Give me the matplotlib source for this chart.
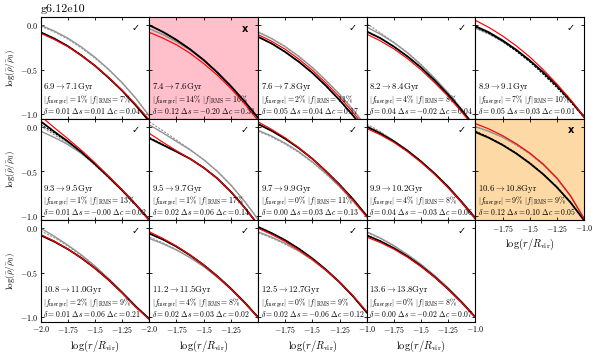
import matplotlib
matplotlib.use('Agg')
import matplotlib.pyplot as plt

plt.rcParams['mathtext.fontset'] = 'cm'
plt.rcParams['font.family'] = 'serif'
plt.rcParams['font.serif'] = ['cmr10', 'DejaVu Serif']

# radial grid shared by every panel
log_r = [-2.0, -1.875, -1.75, -1.625, -1.5, -1.375, -1.25, -1.125, -1.0]

t_start = ['6.9', '7.4', '7.6', '8.2', '8.9', '9.3', '9.5', '9.7', '9.9', '10.6', '10.8', '11.2', '12.5', '13.6']
t_end = ['7.1', '7.6', '7.8', '8.4', '9.1', '9.5', '9.7', '9.9', '10.2', '10.8', '11.0', '11.5', '12.7', '13.8']
f_merger = [1, 14, 2, 4, 7, 1, 1, 0, 4, 9, 2, 4, 0, 0]
f_rms = [7, 16, 11, 8, 10, 13, 17, 11, 8, 9, 9, 8, 9, 8]
delta = ['0.01', '0.12', '0.05', '0.04', '0.05', '0.01', '0.02', '0.00', '0.04', '0.12', '0.01', '0.02', '0.02', '0.00']
d_s = ['0.01', '-0.20', '0.04', '-0.02', '0.03', '-0.00', '0.06', '0.03', '-0.03', '0.10', '0.06', '0.03', '-0.06', '-0.02']
d_c = ['0.04', '0.31', '0.17', '0.04', '0.01', '0.02', '0.14', '0.13', '0.06', '0.05', '0.21', '0.02', '0.12', '0.07']
passed = [True, False, True, True, True, True, True, True, True, False, True, True, True, True]

# log(rho_bar/rho_0) per panel
black = [
    [-0.08, -0.15, -0.235, -0.34, -0.455, -0.59, -0.735, -0.90, -1.08],
    [0.0, -0.075, -0.165, -0.27, -0.39, -0.53, -0.685, -0.855, -1.04],
    [-0.13, -0.205, -0.30, -0.41, -0.535, -0.68, -0.84, -1.015, -1.21],
    [-0.07, -0.145, -0.24, -0.35, -0.475, -0.62, -0.78, -0.955, -1.15],
    [-0.01, -0.08, -0.17, -0.275, -0.395, -0.53, -0.68, -0.845, -1.03],
    [0.06, -0.055, -0.165, -0.285, -0.42, -0.565, -0.715, -0.875, -1.05],
    [-0.13, -0.205, -0.28, -0.36, -0.46, -0.58, -0.73, -0.905, -1.10],
    [0.03, -0.045, -0.135, -0.24, -0.36, -0.50, -0.65, -0.815, -1.0],
    [0.0, -0.075, -0.165, -0.27, -0.39, -0.525, -0.675, -0.845, -1.025],
    [-0.06, -0.125, -0.205, -0.30, -0.41, -0.535, -0.68, -0.85, -1.05],
    [-0.08, -0.15, -0.235, -0.335, -0.45, -0.58, -0.725, -0.88, -1.02],
    [-0.06, -0.126, -0.207, -0.303, -0.413, -0.538, -0.677, -0.831, -1.0],
    [0.015, -0.055, -0.135, -0.23, -0.34, -0.465, -0.605, -0.765, -0.945],
    [-0.08, -0.145, -0.224, -0.317, -0.425, -0.547, -0.684, -0.834, -1.0],
]
black_dashed = [
    [-0.075, -0.15, -0.235, -0.335, -0.455, -0.59, -0.735, -0.90, -1.08],
    [0.0, -0.075, -0.165, -0.27, -0.39, -0.53, -0.685, -0.855, -1.04],
    [-0.13, -0.205, -0.30, -0.41, -0.535, -0.68, -0.84, -1.015, -1.21],
    [-0.07, -0.145, -0.24, -0.35, -0.475, -0.62, -0.78, -0.955, -1.15],
    [-0.02, -0.09, -0.18, -0.29, -0.41, -0.55, -0.70, -0.86, -1.035],
    [0.025, -0.07, -0.17, -0.285, -0.42, -0.565, -0.715, -0.875, -1.05],
    [-0.12, -0.20, -0.28, -0.36, -0.46, -0.58, -0.73, -0.905, -1.10],
    [0.03, -0.045, -0.135, -0.24, -0.36, -0.50, -0.65, -0.815, -1.0],
    [0.0, -0.075, -0.165, -0.27, -0.39, -0.53, -0.68, -0.85, -1.03],
    [-0.05, -0.12, -0.20, -0.295, -0.405, -0.53, -0.675, -0.845, -1.05],
    [-0.08, -0.15, -0.235, -0.335, -0.45, -0.58, -0.725, -0.88, -1.02],
    [-0.06, -0.126, -0.207, -0.303, -0.413, -0.538, -0.677, -0.831, -1.0],
    [0.015, -0.055, -0.135, -0.23, -0.34, -0.465, -0.605, -0.765, -0.945],
    [-0.08, -0.145, -0.224, -0.317, -0.425, -0.547, -0.684, -0.834, -1.0],
]
gray = [
    [0.0, -0.065, -0.145, -0.245, -0.36, -0.495, -0.645, -0.82, -1.02],
    [-0.04, -0.105, -0.185, -0.28, -0.395, -0.53, -0.68, -0.85, -1.04],
    [-0.075, -0.15, -0.24, -0.35, -0.475, -0.62, -0.775, -0.95, -1.145],
    [-0.02, -0.10, -0.195, -0.31, -0.445, -0.595, -0.76, -0.945, -1.15],
    [-0.03, -0.095, -0.18, -0.28, -0.395, -0.525, -0.675, -0.84, -1.02],
    [-0.05, -0.12, -0.20, -0.30, -0.42, -0.555, -0.705, -0.87, -1.04],
    [0.02, -0.07, -0.165, -0.26, -0.37, -0.50, -0.655, -0.835, -1.04],
    [-0.04, -0.105, -0.185, -0.28, -0.395, -0.525, -0.67, -0.835, -1.01],
    [0.01, -0.065, -0.16, -0.265, -0.39, -0.53, -0.685, -0.855, -1.04],
    [0.0, -0.05, -0.115, -0.20, -0.30, -0.425, -0.58, -0.775, -1.03],
    [0.0, -0.09, -0.19, -0.30, -0.425, -0.565, -0.715, -0.875, -1.02],
    [-0.115, -0.175, -0.245, -0.33, -0.43, -0.55, -0.685, -0.835, -1.0],
    [-0.04, -0.10, -0.17, -0.255, -0.355, -0.475, -0.61, -0.765, -0.945],
    [-0.04, -0.11, -0.195, -0.295, -0.405, -0.53, -0.67, -0.825, -0.995],
]
gray_dashed = [
    [-0.01, -0.075, -0.155, -0.255, -0.37, -0.50, -0.65, -0.82, -1.02],
    [-0.04, -0.105, -0.185, -0.28, -0.395, -0.53, -0.68, -0.85, -1.04],
    [-0.075, -0.15, -0.24, -0.35, -0.475, -0.62, -0.775, -0.95, -1.145],
    [0.02, -0.085, -0.19, -0.305, -0.44, -0.595, -0.76, -0.945, -1.15],
    [-0.035, -0.10, -0.185, -0.285, -0.40, -0.53, -0.68, -0.845, -1.025],
    [0.005, -0.09, -0.19, -0.30, -0.435, -0.575, -0.72, -0.88, -1.045],
    [0.055, -0.045, -0.15, -0.255, -0.37, -0.50, -0.655, -0.835, -1.04],
    [-0.05, -0.115, -0.195, -0.29, -0.40, -0.53, -0.675, -0.84, -1.015],
    [0.03, -0.055, -0.155, -0.265, -0.39, -0.53, -0.685, -0.855, -1.04],
    [0.0, -0.055, -0.12, -0.205, -0.305, -0.43, -0.585, -0.78, -1.035],
    [-0.03, -0.105, -0.20, -0.31, -0.43, -0.57, -0.72, -0.88, -1.02],
    [-0.10, -0.165, -0.24, -0.33, -0.43, -0.55, -0.685, -0.835, -1.0],
    [-0.05, -0.11, -0.18, -0.26, -0.36, -0.475, -0.61, -0.765, -0.945],
    [-0.05, -0.115, -0.20, -0.30, -0.41, -0.535, -0.675, -0.83, -1.0],
]
red = [
    [-0.09, -0.16, -0.24, -0.34, -0.455, -0.585, -0.73, -0.89, -1.06],
    [-0.08, -0.145, -0.22, -0.315, -0.43, -0.56, -0.71, -0.88, -1.07],
    [-0.105, -0.18, -0.27, -0.38, -0.505, -0.65, -0.805, -0.98, -1.175],
    [-0.10, -0.175, -0.265, -0.375, -0.50, -0.645, -0.80, -0.975, -1.165],
    [0.055, -0.025, -0.12, -0.23, -0.355, -0.50, -0.66, -0.835, -1.03],
    [0.12, -0.01, -0.135, -0.265, -0.405, -0.555, -0.71, -0.875, -1.055],
    [-0.075, -0.175, -0.27, -0.36, -0.46, -0.58, -0.73, -0.905, -1.10],
    [0.055, -0.03, -0.125, -0.235, -0.36, -0.50, -0.655, -0.825, -1.01],
    [-0.02, -0.09, -0.175, -0.28, -0.40, -0.535, -0.685, -0.85, -1.03],
    [0.035, -0.025, -0.10, -0.19, -0.295, -0.42, -0.575, -0.775, -1.03],
    [-0.07, -0.145, -0.235, -0.335, -0.45, -0.58, -0.725, -0.885, -1.025],
    [-0.04, -0.115, -0.20, -0.30, -0.413, -0.54, -0.68, -0.835, -1.005],
    [0.0, -0.07, -0.15, -0.245, -0.35, -0.47, -0.605, -0.76, -0.935],
    [-0.10, -0.16, -0.235, -0.325, -0.43, -0.55, -0.685, -0.835, -1.0],
]

x_ticks = [-2.0, -1.75, -1.5, -1.25, -1.0]
x_labels = ['$-2.0$', '$-1.75$', '$-1.5$', '$-1.25$', '$-1.0$']
y_ticks = [0.0, -0.5, -1.0]
y_labels = ['$0.0$', '$-0.5$', '$-1.0$']

bg_colors = {1: '#ffc0cb', 9: '#fdd9a6'}

fig, axes = plt.subplots(3, 5, figsize=(5.98, 3.63), dpi=100)
fig.subplots_adjust(left=0.068, right=0.9766, top=0.9526, bottom=0.1138,
                    wspace=0, hspace=0)
axes = axes.flatten()
axes[14].remove()

for i in range(14):
    ax = axes[i]
    row, col = divmod(i, 5)
    if i in bg_colors:
        ax.set_facecolor(bg_colors[i])

    ax.plot(log_r, gray_dashed[i], color='0.58', lw=0.8, ls=(0, (2, 1.2)))
    ax.plot(log_r, gray[i], color='0.58', lw=1.0)
    ax.plot(log_r, black_dashed[i], color='black', lw=0.8, ls=(0, (2, 1.2)))
    ax.plot(log_r, black[i], color='black', lw=1.3)
    ax.plot(log_r, red[i], color='red', lw=0.85)

    ax.set_xlim(-2.0, -1.0)
    ax.set_ylim(-1.05, 0.09)
    ax.tick_params(direction='in', top=True, right=True, length=2.5,
                   width=0.6, labelsize=5.8, pad=2)
    for sp in ax.spines.values():
        sp.set_linewidth(0.8)

    ax.set_yticks(y_ticks)
    if col == 0:
        ax.set_yticklabels(y_labels)
        ax.set_ylabel(r'$\log(\bar{\rho}/\bar{\rho}_0)$', fontsize=6.5, labelpad=2)
    else:
        ax.set_yticklabels([])

    ax.set_xticks(x_ticks)
    if i in (10, 11):
        ax.set_xticklabels(x_labels[:4] + [''])
    elif i in (9, 12, 13):
        ax.set_xticklabels([''] + x_labels[1:])
    else:
        ax.set_xticklabels([])
    if i >= 9:
        ax.set_xlabel(r'$\log(r/R_{\rm vir})$', fontsize=7.5, labelpad=2)

    ax.text(0.025, 0.29, r'$%s \rightarrow %s{\rm Gyr}$' % (t_start[i], t_end[i]),
            transform=ax.transAxes, fontsize=6.3)
    ax.text(0.025, 0.172, r'$|f_{\rm merger}|=%d\%%$ $|f|_{\rm RMS}=%d\%%$' % (f_merger[i], f_rms[i]),
            transform=ax.transAxes, fontsize=5.6)
    ax.text(0.025, 0.05, r'$\delta=%s$ $\Delta s=%s$ $\Delta c=%s$' % (delta[i], d_s[i], d_c[i]),
            transform=ax.transAxes, fontsize=5.6)
    if passed[i]:
        ax.text(0.875, 0.89, '\u2713', transform=ax.transAxes, fontsize=7,
                family='DejaVu Sans', ha='center', va='center', fontweight='bold')
    else:
        ax.text(0.88, 0.885, 'x', transform=ax.transAxes, fontsize=7,
                family='DejaVu Sans', ha='center', va='center', fontweight='bold')

fig.text(0.068, 0.966, 'g6.12e10', fontsize=8.6)

fig.savefig('out.png', dpi=100)
